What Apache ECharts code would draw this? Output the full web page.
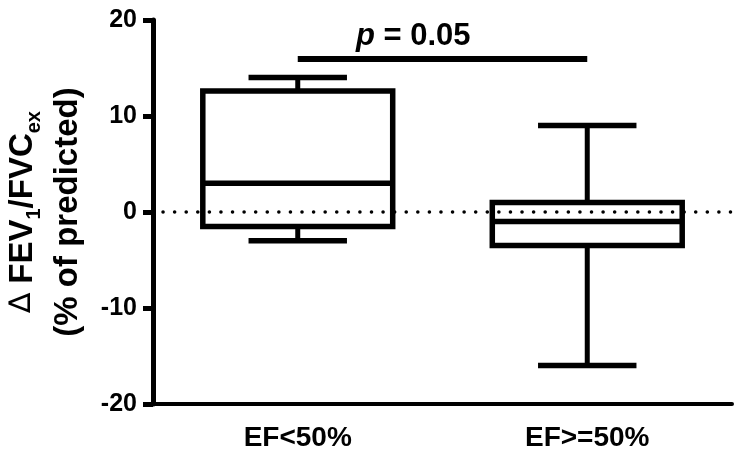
<!DOCTYPE html>
<html>
<head>
<meta charset="utf-8">
<script src="https://cdn.jsdelivr.net/npm/echarts@6/dist/echarts.min.js"></script>
<style>
html, body { margin: 0; background: #fff; }
#chart { width: 743px; height: 462px; }
</style>
</head>
<body>
<div id="chart"></div>
<script>
// box plot values
var categories = ['EF<50%', 'EF>=50%'];
var whiskerLow = [-3, -16];
var quartile1 = [-1.5, -3.5];
var medians = [3, -1];
var quartile3 = [12.6, 1];
var whiskerHigh = [14, 9];
var yTicks = [-20, -10, 0, 10, 20];
var sigBarValue = 16;
var sigLabel = ['p', ' = 0.05'];

var font = 'Arial, "Liberation Sans", Helvetica, sans-serif';

var boxData = categories.map(function (c, i) {
    return [i, whiskerLow[i], quartile1[i], medians[i], quartile3[i], whiskerHigh[i]];
});

function renderBox(params, api) {
    var x = api.value(0);
    var low = api.coord([x, api.value(1)]);
    var q1 = api.coord([x, api.value(2)]);
    var med = api.coord([x, api.value(3)]);
    var q3 = api.coord([x, api.value(4)]);
    var high = api.coord([x, api.value(5)]);
    var band = api.size([1, 0])[0];
    var half = band * 0.328;
    var cap = band * 0.17;
    var cx = low[0];
    var st = { stroke: '#000', lineWidth: 5.5, fill: 'none' };
    var wst = { stroke: '#000', lineWidth: 5, fill: 'none' };
    return {
        type: 'group',
        children: [
            { type: 'line', shape: { x1: cx, y1: high[1], x2: cx, y2: q3[1] }, style: wst },
            { type: 'line', shape: { x1: cx, y1: q1[1], x2: cx, y2: low[1] }, style: wst },
            { type: 'line', shape: { x1: cx - cap, y1: high[1], x2: cx + cap, y2: high[1] }, style: st },
            { type: 'line', shape: { x1: cx - cap, y1: low[1], x2: cx + cap, y2: low[1] }, style: st },
            { type: 'rect', shape: { x: cx - half, y: q3[1], width: 2 * half, height: q1[1] - q3[1] }, style: st },
            { type: 'line', shape: { x1: cx - half, y1: med[1], x2: cx + half, y2: med[1] }, style: st }
        ]
    };
}

var chart = echarts.init(document.getElementById('chart'));

var option = {
    animation: false,
    backgroundColor: '#fff',
    grid: { left: 153, right: 11, top: 20, bottom: 58, outerBoundsMode: 'none' },
    xAxis: {
        type: 'category',
        data: categories,
        axisLine: { onZero: false, lineStyle: { color: '#000', width: 4 } },
        axisTick: { alignWithLabel: true, length: 11, lineStyle: { color: '#000', width: 4 } },
        axisLabel: { color: '#000', fontSize: 28, fontWeight: 'bold', fontFamily: font, margin: 20 },
        splitLine: { show: false }
    },
    yAxis: {
        type: 'value',
        min: yTicks[0],
        max: yTicks[yTicks.length - 1],
        interval: yTicks[1] - yTicks[0],
        axisLine: { show: true, lineStyle: { color: '#000', width: 5 } },
        axisTick: { show: true, length: 10, lineStyle: { color: '#000', width: 5 } },
        axisLabel: { color: '#000', fontSize: 25, fontWeight: 'bold', fontFamily: font, margin: 16 },
        splitLine: { show: false },
        name: '{d|\u2206} {a|FEV}{s|1}{a|/FVC}{s|ex}\n{a|(% of predicted)}',
        nameLocation: 'middle',
        nameRotate: 90,
        nameGap: 63,
        nameTextStyle: {
            color: '#000',
            fontSize: 33,
            fontWeight: 'bold',
            fontFamily: font,
            lineHeight: 45,
            rich: {
                a: { fontSize: 33, fontWeight: 'bold', fontFamily: font, lineHeight: 45, color: '#000' },
                d: { fontSize: 30, fontWeight: 'normal', fontFamily: '"DejaVu Sans", sans-serif', lineHeight: 45, color: '#000' },
                s: { fontSize: 20, fontWeight: 'bold', fontFamily: font, lineHeight: 20, verticalAlign: 'bottom', color: '#000' }
            }
        }
    },
    graphic: [{
        type: 'text',
        left: 356,
        top: 21,
        style: {
            text: '{i|' + sigLabel[0] + '}{n|' + sigLabel[1] + '}',
            rich: {
                i: { fontSize: 31, fontWeight: 'bold', fontStyle: 'italic', fontFamily: font },
                n: { fontSize: 31, fontWeight: 'bold', fontFamily: font }
            }
        }
    }],
    series: [{
        type: 'custom',
        renderItem: renderBox,
        data: boxData,
        encode: { x: 0, y: [1, 2, 3, 4, 5] },
        markLine: {
            silent: true,
            symbol: ['none', 'none'],
            label: { show: false },
            data: [
                { yAxis: 0, lineStyle: { color: '#000', width: 3.5, type: [0.1, 11.48], dashOffset: 1.58, cap: 'round' } },
                [
                    { coord: [categories[0], sigBarValue], lineStyle: { color: '#000', width: 6, type: 'solid', cap: 'butt' } },
                    { coord: [categories[1], sigBarValue] }
                ]
            ]
        }
    }]
};

chart.setOption(option);
</script>
</body>
</html>
